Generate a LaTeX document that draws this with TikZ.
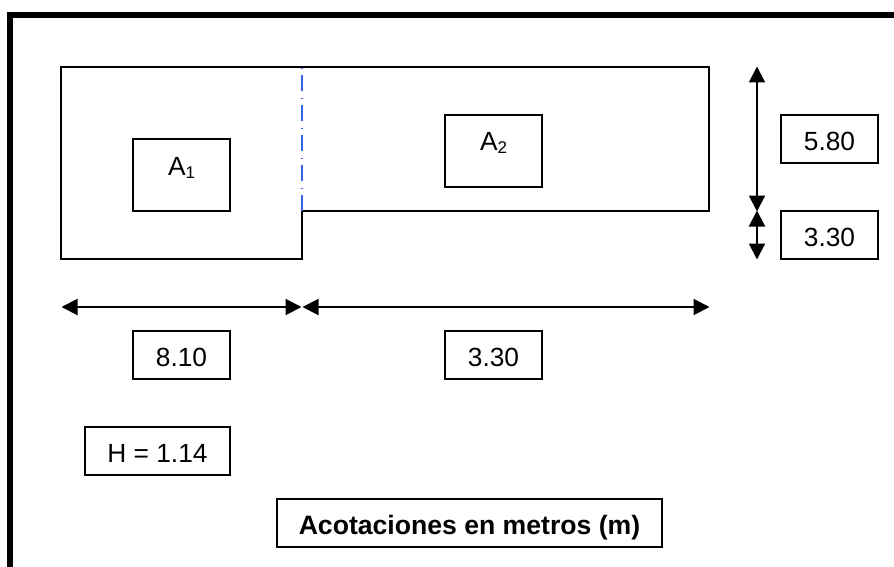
\documentclass[tikz,border=0pt]{standalone}
\usepackage{fontspec}
\setmainfont{Liberation Sans}
\usetikzlibrary{arrows.meta}
\definecolor{axisblue}{RGB}{50,100,230}
\tikzset{
  x=1pt,y=-1pt,
  frameline/.style={line width=6.6pt,line cap=butt,miter limit=10},
  outline/.style={line width=2pt,line join=miter},
  axisline/.style={line width=2pt,color=axisblue,dash pattern=on 1pt off 6pt on 16pt off 7pt},
  dimarrow/.style={line width=2pt,{Triangle[length=16pt,width=16pt]}-{Triangle[length=16pt,width=16pt]},shorten <=-0.5pt,shorten >=-0.5pt},
  labelbox/.style={draw,line width=2pt,anchor=center,inner sep=0pt,font=\fontsize{26.3}{30}\selectfont,text height=24pt,text depth=1pt,minimum width=97pt,minimum height=48pt},
  areabox/.style={labelbox,minimum height=72pt,text height=20pt,text depth=18.5pt}
}
\newcommand{\sbx}[1]{\raisebox{-3.2pt}{\fontsize{17}{20}\selectfont #1}}
\begin{document}
\begin{tikzpicture}
\useasboundingbox (0,0) rectangle (894,567);
\draw[frameline] (10,567) -- (10,15) -- (894,15);
% plan outline
\coordinate (p1) at (61,67);
\coordinate (p2) at (709,67);
\coordinate (p3) at (709,211);
\coordinate (p4) at (302,211);
\coordinate (p5) at (302,259);
\coordinate (p6) at (61,259);
\coordinate (p7) at (302,68);
\draw[outline] (p1) -- (p2) -- (p3) -- (p4) -- (p5) -- (p6) -- cycle;
\draw[axisline] (p7) -- (p4);
% area boxes
\node[areabox] (a1) at (181.5,175) {A\sbx{1}};
\node[areabox,text height=20pt,text depth=21pt] (a2) at (493.5,151) {A\sbx{2}};
% dimension labels
\node[labelbox] (d58) at (829.5,139) {5.80\hspace{5pt}};
\node[labelbox] (d33v) at (829.5,235) {3.30\hspace{5pt}};
\node[labelbox] (d81) at (181.5,355) {8.10\hspace{5pt}};
\node[labelbox] (d33h) at (493.5,355) {3.30\hspace{5pt}};
\node[labelbox,minimum width=145pt] (hh) at (157.5,451) {H = 1.14\hspace{2pt}};
\node[labelbox,minimum width=385pt,font=\fontsize{26.6}{30}\selectfont\bfseries] (note) at (469.5,523) {Acotaciones en metros (m)\hspace{2pt}};
% dimension arrows
\coordinate (v1) at (757,67);
\coordinate (v2) at (757,211);
\coordinate (v3) at (757,259);
\coordinate (h1) at (62,307);
\coordinate (h2) at (301,307);
\coordinate (h3) at (303,307);
\coordinate (h4) at (709,307);
\draw[dimarrow] (v1) -- (v2);
\draw[dimarrow] (v2) -- (v3);
\draw[dimarrow] (h1) -- (h2);
\draw[dimarrow] (h3) -- (h4);
\end{tikzpicture}
\end{document}
